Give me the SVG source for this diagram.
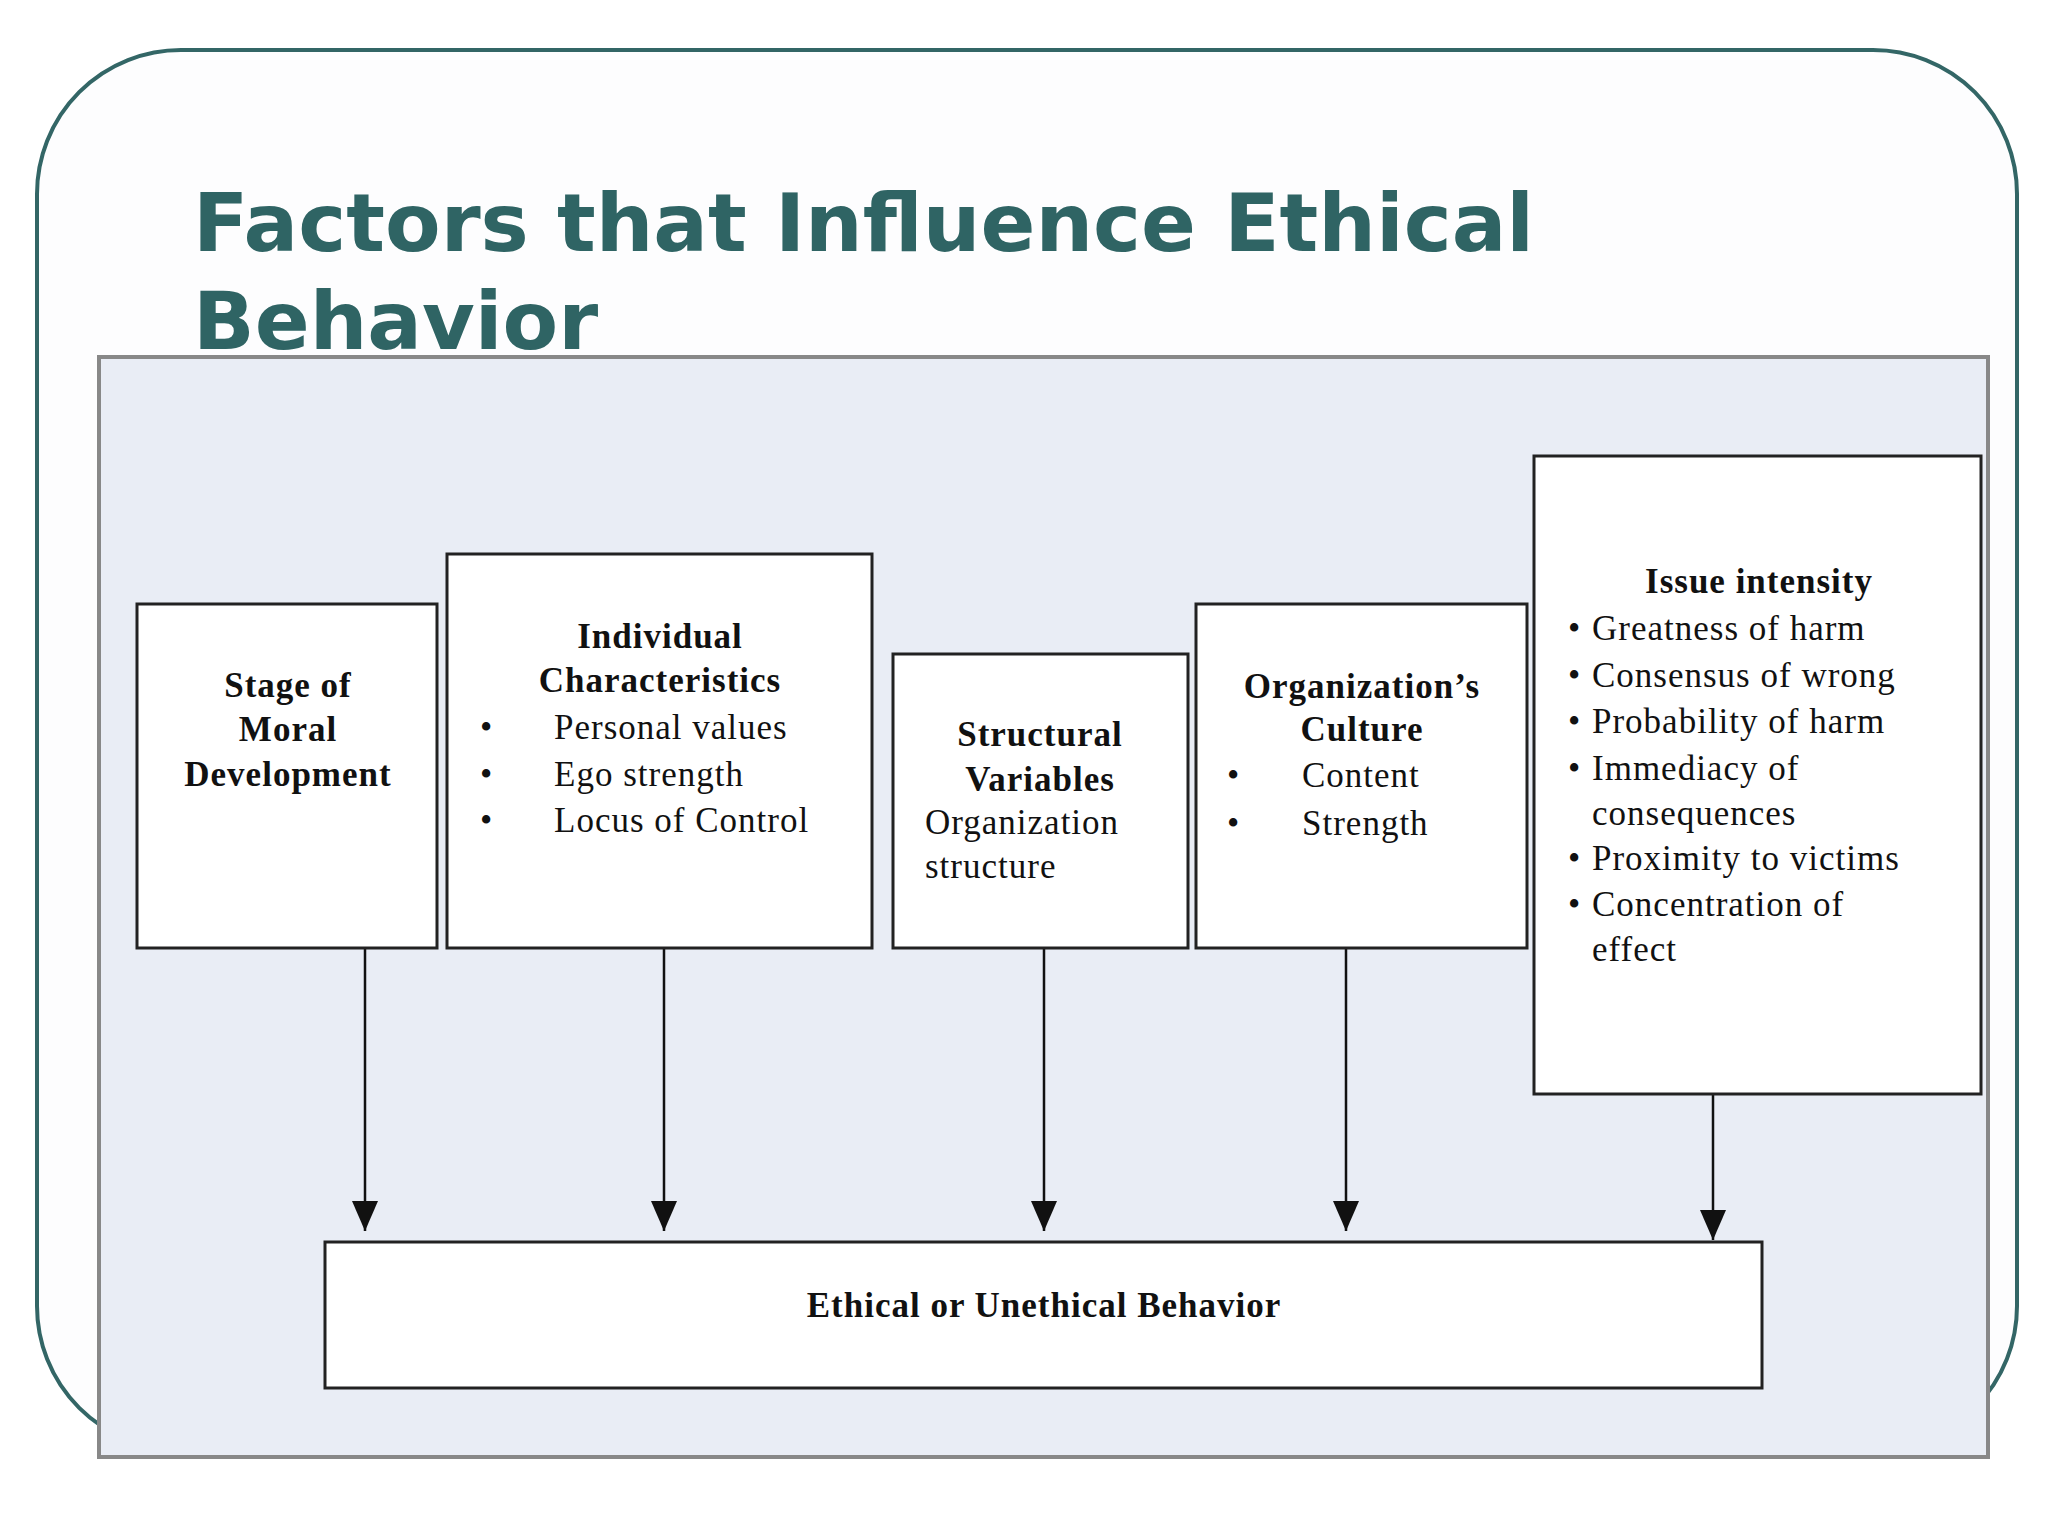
<svg xmlns="http://www.w3.org/2000/svg" width="2048" height="1536" viewBox="0 0 2048 1536">
<defs>
<style>
.box{fill:#fff;stroke:#222;stroke-width:3}
.t{font-family:"Liberation Serif","DejaVu Serif",serif;font-size:35px;fill:#111;letter-spacing:1px}
.b{font-weight:bold}
.c{text-anchor:middle}
.ln{stroke:#111;stroke-width:2.5;fill:none}
</style>
<marker id="ah" viewBox="0 0 30 26" refX="30" refY="13" markerWidth="30" markerHeight="26" orient="auto" markerUnits="userSpaceOnUse"><path d="M0,0 L30,13 L0,26 z" fill="#111"/></marker>
</defs>
<rect width="2048" height="1536" fill="#fff"/>
<rect x="37" y="50" width="1980" height="1400" rx="144" fill="#fdfdfe" stroke="#336666" stroke-width="4"/>
<text font-family="'DejaVu Sans',Verdana,sans-serif" font-weight="bold" font-size="81" fill="#2f6464"><tspan x="193" y="251">Factors that Influence Ethical</tspan><tspan x="193" y="349">Behavior</tspan></text>
<rect x="99" y="357" width="1889" height="1100" fill="#e9edf5" stroke="#888" stroke-width="4"/>
<g id="connectors">
<line class="ln" x1="365" y1="948" x2="365" y2="1231" marker-end="url(#ah)"/>
<line class="ln" x1="664" y1="948" x2="664" y2="1231" marker-end="url(#ah)"/>
<line class="ln" x1="1044" y1="948" x2="1044" y2="1231" marker-end="url(#ah)"/>
<line class="ln" x1="1346" y1="948" x2="1346" y2="1231" marker-end="url(#ah)"/>
<line class="ln" x1="1713" y1="1094" x2="1713" y2="1240" marker-end="url(#ah)"/>
</g>
<g id="n1"><rect class="box" x="137" y="604" width="300" height="344"/>
<text class="t b c"><tspan x="288" y="697">Stage of</tspan><tspan x="288" y="741">Moral</tspan><tspan x="288" y="786">Development</tspan></text></g>
<g id="n2"><rect class="box" x="447" y="554" width="425" height="394"/>
<text class="t b c"><tspan x="660" y="648">Individual</tspan><tspan x="660" y="692">Characteristics</tspan></text>
<text class="t"><tspan x="480" y="739">•</tspan><tspan x="554" y="739">Personal values</tspan><tspan x="480" y="786">•</tspan><tspan x="554" y="786">Ego strength</tspan><tspan x="480" y="832">•</tspan><tspan x="554" y="832">Locus of Control</tspan></text></g>
<g id="n3"><rect class="box" x="893" y="654" width="295" height="294"/>
<text class="t b c"><tspan x="1040" y="746">Structural</tspan><tspan x="1040" y="791">Variables</tspan></text>
<text class="t"><tspan x="925" y="834">Organization</tspan><tspan x="925" y="878">structure</tspan></text></g>
<g id="n4"><rect class="box" x="1196" y="604" width="331" height="344"/>
<text class="t b c"><tspan x="1362" y="698">Organization’s</tspan><tspan x="1362" y="741">Culture</tspan></text>
<text class="t"><tspan x="1227" y="787">•</tspan><tspan x="1302" y="787">Content</tspan><tspan x="1227" y="835">•</tspan><tspan x="1302" y="835">Strength</tspan></text></g>
<g id="n5"><rect class="box" x="1534" y="456" width="447" height="638"/>
<text class="t b c"><tspan x="1759" y="593">Issue intensity</tspan></text>
<text class="t"><tspan x="1568" y="640">•</tspan><tspan x="1592" y="640">Greatness of harm</tspan><tspan x="1568" y="687">•</tspan><tspan x="1592" y="687">Consensus of wrong</tspan><tspan x="1568" y="733">•</tspan><tspan x="1592" y="733">Probability of harm</tspan><tspan x="1568" y="780">•</tspan><tspan x="1592" y="780">Immediacy of</tspan><tspan x="1592" y="825">consequences</tspan><tspan x="1568" y="870">•</tspan><tspan x="1592" y="870">Proximity to victims</tspan><tspan x="1568" y="916">•</tspan><tspan x="1592" y="916">Concentration of</tspan><tspan x="1592" y="961">effect</tspan></text></g>
<g id="n6"><rect class="box" x="325" y="1242" width="1437" height="146"/>
<text class="t b c" x="1044" y="1317">Ethical or Unethical Behavior</text></g>
</svg>
